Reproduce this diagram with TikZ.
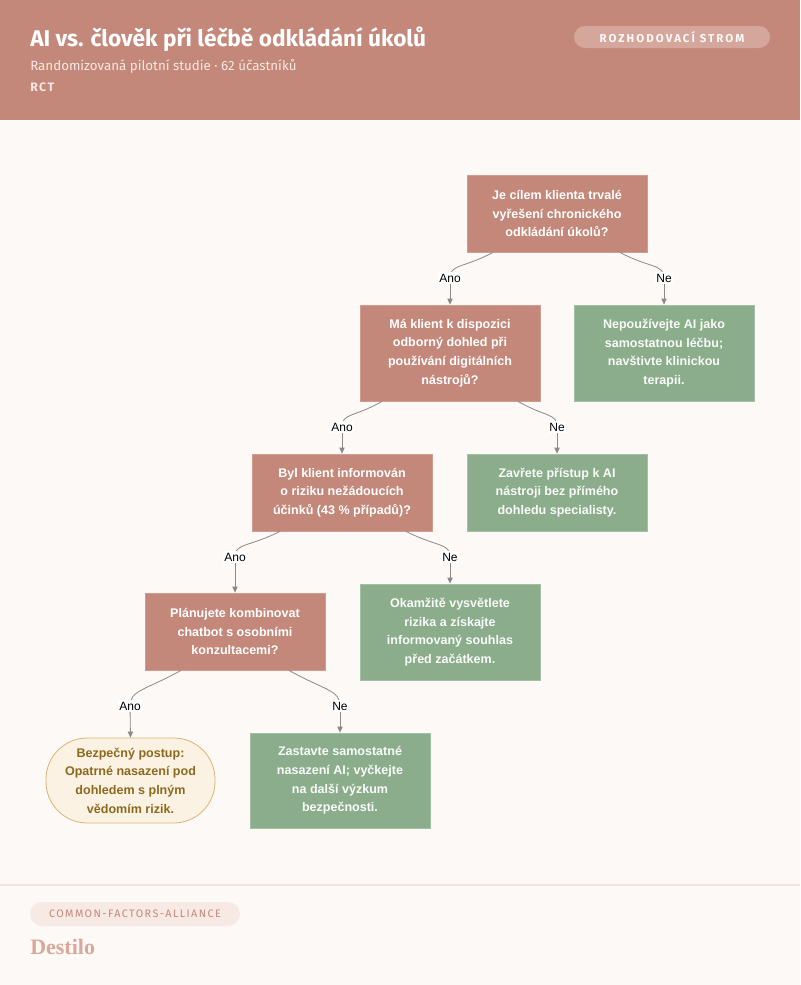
\documentclass[tikz,border=0pt]{standalone}
\usepackage{fontspec}
\setmainfont{Liberation Sans}
\newfontfamily\headfont{Fira Sans}
\newfontfamily\logofont{Liberation Serif}
\usetikzlibrary{calc,arrows.meta}
\definecolor{bgc}{HTML}{FDF9F6}
\definecolor{headc}{HTML}{C4887A}
\definecolor{qc}{HTML}{C4887A}
\definecolor{qborder}{HTML}{D29C8F}
\definecolor{gc}{HTML}{8BAD8C}
\definecolor{gborder}{HTML}{A3C0A3}
\definecolor{tfill}{HTML}{FCF2E4}
\definecolor{tborder}{HTML}{DAB46F}
\definecolor{ttext}{HTML}{8B6A1E}
\definecolor{linec}{HTML}{8A8A8A}
\definecolor{pillc}{HTML}{D4A69C}
\definecolor{footpill}{HTML}{F7EAE5}
\definecolor{footline}{HTML}{EFE5E0}
\definecolor{logoc}{HTML}{D8A99B}
\definecolor{softwhite}{HTML}{F6E8E2}
\tikzset{
  boxtext/.style={font=\bfseries\fontsize{9.4}{14}\selectfont, align=center, inner sep=0pt},
  question/.style={boxtext, fill=qc, draw=qborder, line width=0.6pt, text=white, minimum width=135pt},
  outcome/.style={boxtext, fill=gc, draw=gborder, line width=0.6pt, text=white!95!gc, minimum width=135pt},
  terminal/.style={boxtext, fill=tfill, draw=tborder, line width=0.6pt, text=ttext, minimum width=126.75pt, minimum height=63.75pt, rounded corners=31pt},
  conn/.style={draw=linec, line width=0.6pt},
  connarrow/.style={conn, -{Triangle[length=4.5pt,width=4pt]}, shorten >=0pt},
  elabel/.style={fill=white, text=black, font=\fontsize{9}{10}\selectfont, inner sep=1.2pt}
}
\begin{document}
\begin{tikzpicture}[x=0.75pt,y=-0.75pt]
\useasboundingbox (0,0) rectangle (800,985);
\fill[bgc] (0,0) rectangle (800,985);
% header
\fill[headc] (0,0) rectangle (800,120);
\node[anchor=base west, inner sep=0pt, text=white, font=\headfont\bfseries\fontsize{17}{20}\selectfont] (title) at (30,46) {AI vs. člověk při léčbě odkládání úkolů};
\node[anchor=base west, inner sep=0pt, text=softwhite, font=\headfont\fontsize{10}{12}\selectfont] (sub) at (30,70) {Randomizovaná pilotní studie · 62 účastníků};
\node[anchor=base west, inner sep=0pt, text=softwhite, font=\headfont\fontsize{9.2}{11}\selectfont\addfontfeatures{LetterSpace=12}] (rct) at (30,91) {\textbf{RCT}};
\path[fill=pillc, rounded corners=8.2pt] (574,26) rectangle (770,48);
\node[text=white!92!pillc, font=\headfont\bfseries\fontsize{8.6}{10}\selectfont\addfontfeatures{LetterSpace=18}] (pill) at (672,37.5) {ROZHODOVACÍ STROM};
% nodes
\node[question, minimum height=57.75pt] (q1) at (557,213.5) {Je cílem klienta trvalé\\vyřešení chronického\\odkládání úkolů?};
\node[question, minimum height=72pt] (q2) at (450,353) {Má klient k dispozici\\odborný dohled při\\používání digitálních\\nástrojů?};
\node[outcome, minimum height=72pt] (n1) at (664,353) {Nepoužívejte AI jako\\samostatnou léčbu;\\navštivte klinickou\\terapii.};
\node[question, minimum height=57.75pt] (q3) at (342,492.5) {Byl klient informován\\o riziku nežádoucích\\účinků (43 \% případů)?};
\node[outcome, minimum height=57.75pt] (n2) at (557,492.5) {Zavřete přístup k AI\\nástroji bez přímého\\dohledu specialisty.};
\node[question, minimum height=57.75pt] (q4) at (235,631.5) {Plánujete kombinovat\\chatbot s osobními\\konzultacemi?};
\node[outcome, minimum height=72pt] (n3) at (450,632) {Okamžitě vysvětlete\\rizika a získajte\\informovaný souhlas\\před začátkem.};
\node[terminal] (t1) at (130.5,780.5) {Bezpečný postup:\\Opatrné nasazení pod\\dohledem s plným\\vědomím rizik.};
\node[outcome, minimum height=71.25pt] (n4) at (340,780.5) {Zastavte samostatné\\nasazení AI; vyčkejte\\na další výzkum\\bezpečnosti.};
% connector start points and label positions
\coordinate (s1a) at ($(q1.south)+(-64,0)$);
\coordinate (s1b) at ($(q1.south)+(63,0)$);
\coordinate (s2a) at ($(q2.south)+(-68,0)$);
\coordinate (s2b) at ($(q2.south)+(68,0)$);
\coordinate (s3a) at ($(q3.south)+(-62,0)$);
\coordinate (s3b) at ($(q3.south)+(64,0)$);
\coordinate (s4a) at ($(q4.south)+(-54,0)$);
\coordinate (s4b) at ($(q4.south)+(54,0)$);
\coordinate (m1a) at (450,278);
\coordinate (m1b) at (664,278);
\coordinate (m2a) at (342,427);
\coordinate (m2b) at (557,427);
\coordinate (m3a) at (235,557);
\coordinate (m3b) at (450,557);
\coordinate (m4a) at (130,706);
\coordinate (m4b) at (340,706);
% connectors
\draw[conn] (s1a) .. controls +(-30,16) and +(0,-14) .. (m1a);
\draw[connarrow] (m1a) -- (q2.north);
\draw[conn] (s1b) .. controls +(30,16) and +(0,-14) .. (m1b);
\draw[connarrow] (m1b) -- (n1.north);
\draw[conn] (s2a) .. controls +(-28,16) and +(0,-14) .. (m2a);
\draw[connarrow] (m2a) -- (q3.north);
\draw[conn] (s2b) .. controls +(28,16) and +(0,-14) .. (m2b);
\draw[connarrow] (m2b) -- (n2.north);
\draw[conn] (s3a) .. controls +(-32,16) and +(0,-14) .. (m3a);
\draw[connarrow] (m3a) -- (q4.north);
\draw[conn] (s3b) .. controls +(32,16) and +(0,-14) .. (m3b);
\draw[connarrow] (m3b) -- (n3.north);
\draw[conn] (s4a) .. controls +(-36,20) and +(0,-16) .. (m4a);
\draw[connarrow] (m4a) -- (t1.north);
\draw[conn] (s4b) .. controls +(36,20) and +(0,-16) .. (m4b);
\draw[connarrow] (m4b) -- (n4.north);
% edge labels
\node[elabel] (l1a) at (m1a) {Ano};
\node[elabel] (l1b) at (m1b) {Ne};
\node[elabel] (l2a) at (m2a) {Ano};
\node[elabel] (l2b) at (m2b) {Ne};
\node[elabel] (l3a) at (m3a) {Ano};
\node[elabel] (l3b) at (m3b) {Ne};
\node[elabel] (l4a) at (m4a) {Ano};
\node[elabel] (l4b) at (m4b) {Ne};
% footer
\draw[footline, line width=0.8pt] (0,885) -- (800,885);
\path[fill=footpill, rounded corners=9pt] (30,902) rectangle (240,926);
\node[text=headc, font=\headfont\fontsize{8.1}{9}\selectfont\addfontfeatures{LetterSpace=13}] (org) at (135,914) {COMMON-FACTORS-ALLIANCE};
\node[anchor=base west, inner sep=0pt, text=logoc, font=\logofont\bfseries\fontsize{16.5}{20}\selectfont] (logo) at (30,954) {Destilo};
\end{tikzpicture}
\end{document}
